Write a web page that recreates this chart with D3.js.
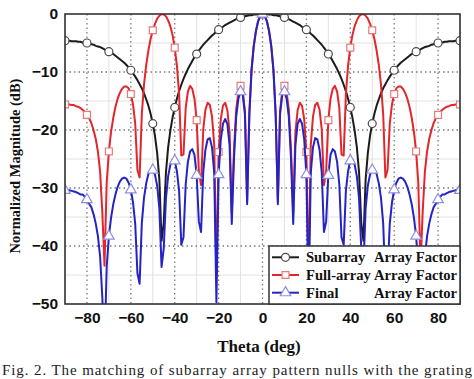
<!DOCTYPE html>
<html><head><meta charset="utf-8">
<script src="https://cdn.jsdelivr.net/npm/d3@7/dist/d3.min.js"></script>
<style>body{margin:0;background:#fff;} svg{display:block;}</style>
</head><body><svg id="c" width="474" height="379"></svg>
<script>
const theta = [-90,-89,-88,-87,-86,-85,-84,-83,-82,-81,-80,-79,-78,-77,-76,-75,-74,-73,-72,-71,-70,-69,-68,-67,-66,-65,-64,-63,-62,-61,-60,-59,-58,-57,-56,-55,-54,-53,-52,-51,-50,-49,-48,-47,-46,-45,-44,-43,-42,-41,-40,-39,-38,-37,-36,-35,-34,-33,-32,-31,-30,-29,-28,-27,-26,-25,-24,-23,-22,-21,-20,-19,-18,-17,-16,-15,-14,-13,-12,-11,-10,-9,-8,-7,-6,-5,-4,-3,-2,-1,0,1,2,3,4,5,6,7,8,9,10,11,12,13,14,15,16,17,18,19,20,21,22,23,24,25,26,27,28,29,30,31,32,33,34,35,36,37,38,39,40,41,42,43,44,45,46,47,48,49,50,51,52,53,54,55,56,57,58,59,60,61,62,63,64,65,66,67,68,69,70,71,72,73,74,75,76,77,78,79,80,81,82,83,84,85,86,87,88,89,90];

const subarray = [
-4.6,-4.6,-4.6,-4.7,-4.7,-4.7,-4.8,-4.8,-4.9,-5.0,
-5.0,-5.1,-5.2,-5.3,-5.5,-5.6,-5.7,-5.9,-6.1,-6.3,
-6.5,-6.7,-6.9,-7.2,-7.5,-7.8,-8.1,-8.4,-8.8,-9.2,
-9.7,-10.2,-10.8,-11.4,-12.1,-12.8,-13.7,-14.7,-15.8,-17.2,
-18.9,-21.0,-24.0,-28.5,-39.1,-36.0,-27.3,-23.0,-20.1,-17.9,
-16.1,-14.6,-13.3,-12.2,-11.2,-10.3,-9.5,-8.8,-8.1,-7.4,
-6.9,-6.3,-5.8,-5.3,-4.9,-4.5,-4.1,-3.7,-3.4,-3.0,
-2.7,-2.4,-2.2,-1.9,-1.7,-1.5,-1.3,-1.1,-0.9,-0.8,
-0.6,-0.5,-0.4,-0.3,-0.2,-0.2,-0.1,-0.1,0,0,
0,
0,0,-0.1,-0.1,-0.2,-0.2,-0.3,-0.4,-0.5,-0.6,
-0.8,-0.9,-1.1,-1.3,-1.5,-1.7,-1.9,-2.2,-2.4,-2.7,
-3.0,-3.4,-3.7,-4.1,-4.5,-4.9,-5.3,-5.8,-6.3,-6.9,
-7.4,-8.1,-8.8,-9.5,-10.3,-11.2,-12.2,-13.3,-14.6,-16.1,
-17.9,-20.1,-23.0,-27.3,-36.0,-39.1,-28.5,-24.0,-21.0,-18.9,
-17.2,-15.8,-14.7,-13.7,-12.8,-12.1,-11.4,-10.8,-10.2,-9.7,
-9.2,-8.8,-8.4,-8.1,-7.8,-7.5,-7.2,-6.9,-6.7,-6.5,
-6.3,-6.1,-5.9,-5.7,-5.6,-5.5,-5.3,-5.2,-5.1,-5.0,
-5.0,-4.9,-4.8,-4.8,-4.7,-4.7,-4.7,-4.6,-4.6,-4.6];

const fullArray = [
-15.6,-15.6,-15.6,-15.7,-15.7,-15.9,-16.0,-16.2,-16.5,-16.9,
-17.4,-18.0,-18.8,-20.0,-21.5,-23.7,-27.2,-34.1,-43.4,-29.1,
-23.7,-20.3,-17.9,-16.0,-14.6,-13.6,-12.9,-12.5,-12.5,-12.8,
-13.8,-15.6,-18.9,-26.9,-28.2,-17.3,-12.2,-8.8,-6.3,-4.3,
-2.8,-1.7,-0.8,-0.3,0,-0.1,-0.4,-1.1,-2.1,-3.6,
-5.8,-8.9,-13.8,-24.4,-24.2,-16.2,-13.4,-12.4,-12.9,-14.6,
-18.3,-27.1,-29.5,-19.9,-16.5,-15.3,-15.7,-17.7,-22.6,-45.4,
-23.8,-18.1,-15.8,-15.3,-16.6,-20.4,-34.3,-23.4,-16.5,-13.5,
-12.4,-13.2,-16.7,-32.3,-17.1,-9.6,-5.5,-2.9,-1.2,-0.3,
0,
-0.3,-1.2,-2.9,-5.5,-9.6,-17.1,-32.3,-16.7,-13.2,-12.4,
-13.5,-16.5,-23.4,-34.3,-20.4,-16.6,-15.3,-15.8,-18.1,-23.8,
-45.4,-22.6,-17.7,-15.7,-15.3,-16.5,-19.9,-29.5,-27.1,-18.3,
-14.6,-12.9,-12.4,-13.4,-16.2,-24.2,-24.4,-13.8,-8.9,-5.8,
-3.6,-2.1,-1.1,-0.4,-0.1,0,-0.3,-0.8,-1.7,-2.8,
-4.3,-6.3,-8.8,-12.2,-17.3,-28.2,-26.9,-18.9,-15.6,-13.8,
-12.8,-12.5,-12.5,-12.9,-13.6,-14.6,-16.0,-17.9,-20.3,-23.7,
-29.1,-43.4,-34.1,-27.2,-23.7,-21.5,-20.0,-18.8,-18.0,-17.4,
-16.9,-16.5,-16.2,-16.0,-15.9,-15.7,-15.7,-15.6,-15.6,-15.6];

const finalAF = [
-30.4,-30.4,-30.4,-30.5,-30.6,-30.7,-30.9,-31.1,-31.1,-31.5,
-32.0,-32.7,-33.3,-34.5,-36.1,-38.3,-41.8,-48.8,-57.9,-43.6,
-38.3,-35.1,-32.8,-31.1,-29.8,-28.9,-28.4,-28.2,-28.4,-29.1,
-30.3,-32.5,-36.2,-44.7,-46.5,-36.1,-31.7,-29.2,-27.6,-26.9,
-26.9,-27.7,-29.6,-33.5,-43.6,-40.4,-31.8,-28.0,-26.0,-25.1,
-25.3,-27.1,-30.5,-39.8,-38.5,-29.4,-25.5,-23.7,-23.3,-24.3,
-27.8,-35.8,-37.6,-27.3,-23.4,-21.6,-21.4,-23.0,-27.4,-49.7,
-27.7,-21.6,-18.9,-18.1,-19.0,-22.6,-36.2,-25.0,-17.8,-14.6,
-13.4,-14.0,-17.3,-32.8,-17.4,-9.8,-5.6,-3.0,-1.3,-0.3,
0,
-0.3,-1.3,-3.0,-5.6,-9.8,-17.4,-32.8,-17.3,-14.0,-13.4,
-14.6,-17.8,-25.0,-36.2,-22.6,-19.0,-18.1,-18.9,-21.6,-27.7,
-49.7,-27.4,-23.0,-21.4,-21.6,-23.4,-27.3,-37.6,-35.8,-27.8,
-24.3,-23.3,-23.7,-25.5,-29.4,-38.5,-39.8,-30.5,-27.1,-25.3,
-25.1,-26.0,-28.0,-31.8,-40.4,-43.6,-33.5,-29.6,-27.7,-26.9,
-26.9,-27.6,-29.2,-31.7,-36.1,-46.5,-44.7,-36.2,-32.5,-30.3,
-29.1,-28.4,-28.2,-28.4,-28.9,-29.8,-31.1,-32.8,-35.1,-38.3,
-43.6,-57.9,-48.8,-41.8,-38.3,-36.1,-34.5,-33.3,-32.7,-32.0,
-31.5,-31.1,-31.1,-30.9,-30.7,-30.6,-30.5,-30.4,-30.4,-30.4];

const xTicks = [-80,-60,-40,-20,0,20,40,60,80];
const yTicks = [0,-10,-20,-30,-40,-50];
const xMinorGrid = [-90,-70,-50,-30,-10,10,30,50,70,90];
const yMinorGrid = [-5,-15,-25,-35,-45];
const markerTheta = [-90,-80,-70,-60,-50,-40,-30,-20,-10,0,10,20,30,40,50,60,70,80,90];
const legendNames = ["Subarray","Full-array","Final"];
const legendSuffix = "Array Factor";
const xLabel = "Theta (deg)";
const yLabel = "Normalized Magnitude (dB)";
const caption = "Fig. 2. The matching of subarray array pattern nulls with the grating";

const svg = d3.select('#c');
const L = 65, R = 460, T = 14, B = 304;
const x = d3.scaleLinear().domain([-90, 90]).range([L, R]);
const y = d3.scaleLinear().domain([-50, 0]).range([B, T]);

svg.append('rect').attr('width', 474).attr('height', 379).attr('fill', '#fff');

// grid
const g = svg.append('g');
g.selectAll('.vx').data(xMinorGrid).join('line')
  .attr('x1', d => x(d)).attr('x2', d => x(d)).attr('y1', T).attr('y2', B)
  .attr('stroke', '#e2e2e2').attr('stroke-width', 1);
g.selectAll('.hy').data(yMinorGrid).join('line')
  .attr('y1', d => y(d)).attr('y2', d => y(d)).attr('x1', L).attr('x2', R)
  .attr('stroke', '#e2e2e2').attr('stroke-width', 1);
g.selectAll('.vX').data(xTicks).join('line')
  .attr('x1', d => x(d)).attr('x2', d => x(d)).attr('y1', T).attr('y2', B)
  .attr('stroke', '#7a7a7a').attr('stroke-width', 1.3).attr('stroke-dasharray', '1.5,3');
g.selectAll('.hY').data(yTicks.filter(v => v > -50 && v < 0)).join('line')
  .attr('y1', d => y(d)).attr('y2', d => y(d)).attr('x1', L).attr('x2', R)
  .attr('stroke', '#7a7a7a').attr('stroke-width', 1.3).attr('stroke-dasharray', '1.5,3');

// clip
svg.append('clipPath').attr('id', 'clip').append('rect')
  .attr('x', L).attr('y', T).attr('width', R - L).attr('height', B - T);
const plot = svg.append('g').attr('clip-path', 'url(#clip)');

const series = [
  {vals: subarray, color: '#1c1c1c', mstroke: '#4a4a4a', sym: d3.symbolCircle, size: 50},
  {vals: fullArray, color: '#e2262c', mstroke: '#e87a7a', sym: d3.symbolSquare, size: 48},
  {vals: finalAF, color: '#2424c4', mstroke: '#8e8ee0', sym: d3.symbolTriangle, size: 48}
];

const line = d3.line().x((d, i) => x(theta[i])).y(d => y(d));
series.forEach(s => {
  plot.append('path').datum(s.vals).attr('d', line)
    .attr('fill', 'none').attr('stroke', s.color).attr('stroke-width', 2)
    .attr('stroke-linejoin', 'round');
  plot.selectAll(null).data(markerTheta).join('path')
    .attr('d', d3.symbol().type(s.sym).size(s.size))
    .attr('transform', t => `translate(${x(t)},${y(s.vals[theta.indexOf(t)])})`)
    .attr('fill', '#fff').attr('stroke', s.mstroke).attr('stroke-width', 1.2);
});

// frame
svg.append('rect').attr('x', L).attr('y', T).attr('width', R - L).attr('height', B - T)
  .attr('fill', 'none').attr('stroke', '#333').attr('stroke-width', 1.6);

// axes
const xa = svg.append('g').attr('transform', `translate(0,${B})`)
  .call(d3.axisBottom(x).tickValues(xTicks).tickSize(0).tickPadding(8).tickFormat(d3.format('d')));
const ya = svg.append('g').attr('transform', `translate(${L},0)`)
  .call(d3.axisLeft(y).tickValues(yTicks).tickSize(0).tickPadding(7).tickFormat(d3.format('d')));
[xa, ya].forEach(a => {
  a.select('.domain').remove();
  a.selectAll('text').attr('font-family', '"Liberation Sans", Arial, sans-serif')
    .attr('font-weight', 'bold').attr('font-size', 15.5).attr('fill', '#111');
});

svg.append('text').attr('x', 259).attr('y', 352).attr('text-anchor', 'middle')
  .attr('font-family', '"Liberation Serif", "Times New Roman", serif').attr('font-weight', 'bold')
  .attr('font-size', 17).attr('fill', '#111').text(xLabel);
svg.append('text').attr('transform', 'translate(20,166) rotate(-90)').attr('text-anchor', 'middle')
  .attr('font-family', '"Liberation Serif", "Times New Roman", serif').attr('font-weight', 'bold')
  .attr('font-size', 14.5).attr('fill', '#111').text(yLabel);

// legend
const lg = svg.append('g');
lg.append('rect').attr('x', 269).attr('y', 246).attr('width', 191).attr('height', 58)
  .attr('fill', '#fff').attr('stroke', '#333').attr('stroke-width', 1.5);
legendNames.forEach((name, i) => {
  const s = series[i];
  const cy = 257.3 + i * 17.7;
  lg.append('line').attr('x1', 272).attr('x2', 299).attr('y1', cy).attr('y2', cy)
    .attr('stroke', s.color).attr('stroke-width', 2);
  lg.append('path').attr('d', d3.symbol().type(s.sym).size(s.size)())
    .attr('transform', `translate(285.5,${cy})`)
    .attr('fill', '#fff').attr('stroke', s.mstroke).attr('stroke-width', 1.2);
  lg.append('text').attr('x', 306).attr('y', cy + 5)
    .attr('font-family', '"Liberation Serif", "Times New Roman", serif').attr('font-weight', 'bold')
    .attr('font-size', 14.6).attr('fill', '#111').text(name);
  lg.append('text').attr('x', 374).attr('y', cy + 5)
    .attr('font-family', '"Liberation Serif", "Times New Roman", serif').attr('font-weight', 'bold')
    .attr('font-size', 14.6).attr('fill', '#111').text(legendSuffix);
});

svg.append('text').attr('x', 2).attr('y', 375)
  .attr('font-family', '"Liberation Serif", "Times New Roman", serif')
  .attr('font-size', 15).attr('fill', '#222')
  .attr('textLength', 470).attr('lengthAdjust', 'spacing').text(caption);
</script>
</body></html>
